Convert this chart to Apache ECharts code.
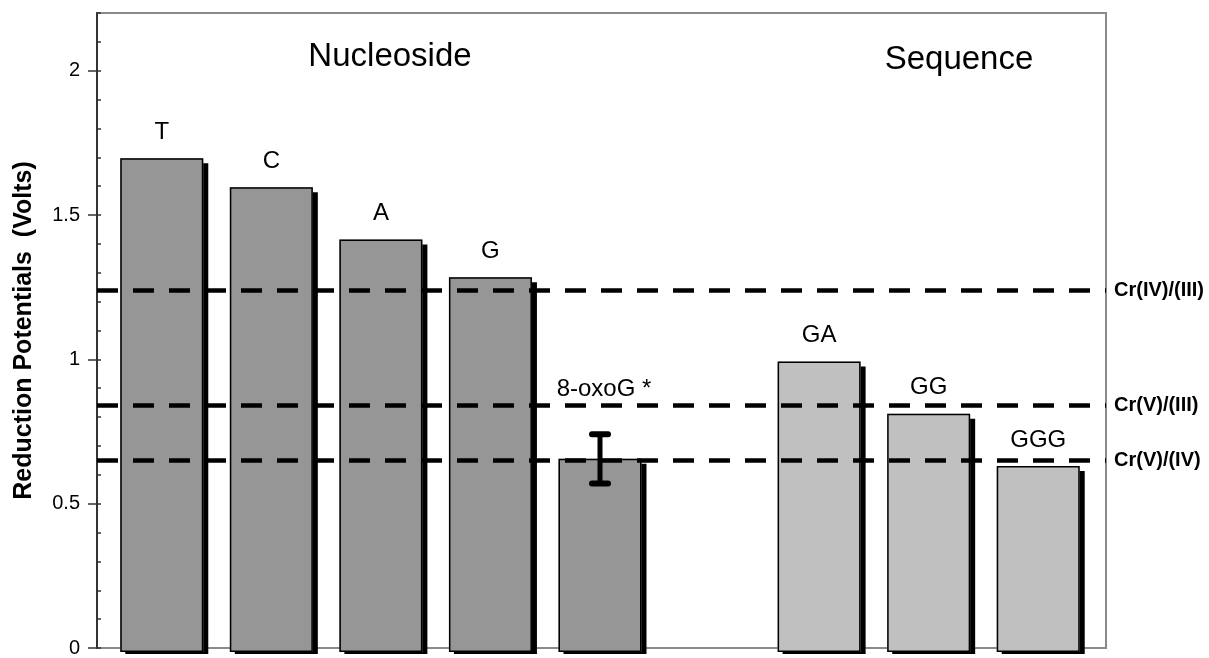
<!DOCTYPE html>
<html>
<head>
<meta charset="utf-8">
<script src="https://cdn.jsdelivr.net/npm/echarts@6/dist/echarts.min.js"></script>
<style>
  html, body { margin: 0; padding: 0; background: #fff; }
  #chart { width: 1209px; height: 658px; }
</style>
</head>
<body>
<div id="chart"></div>
<script>
// Reduction potentials of nucleosides and guanine sequences (V)
const categories = ['T', 'C', 'A', 'G', '8-oxoG *', '', 'GA', 'GG', 'GGG'];
const nucleosideValues = [1.70, 1.60, 1.42, 1.29, 0.665, null, null, null, null];
const sequenceValues = [null, null, null, null, null, null, 1.00, 0.82, 0.64];
const oxoGIndex = 4;
const oxoGError = 0.085;

// Chromium redox couples drawn as reference lines
const couples = ['Cr(IV)/(III)', 'Cr(V)/(III)', 'Cr(V)/(IV)'];
const coupleValues = [1.24, 0.845, 0.65];

// Y axis: labelled major ticks and unlabelled minor ticks
const yMin = 0, yMax = 2.2;
const majorTicks = [0, 0.5, 1, 1.5, 2];

const FONT = '"Liberation Sans", Arial, sans-serif';

const chart = echarts.init(document.getElementById('chart'), null, { renderer: 'canvas' });

// Each group is drawn twice: a filled body casting a hard drop shadow,
// then a black outline on top (so the shadow never crosses the fill).
const fillSeries = (name, values, fill) => ({
  name: name, type: 'bar', xAxisIndex: 1, yAxisIndex: 2,
  data: values, barWidth: 83, barGap: '-100%',
  itemStyle: { color: fill, borderWidth: 0, shadowColor: '#000', shadowBlur: 0, shadowOffsetX: 5, shadowOffsetY: 5 },
  label: { show: false }
});

const outlineSeries = (name, data) => ({
  name: name, type: 'bar', xAxisIndex: 1, yAxisIndex: 2,
  data: data, barWidth: 83, barGap: '-100%',
  itemStyle: { color: 'transparent', borderColor: '#000', borderWidth: 1.5 },
  label: { show: true, position: 'top', distance: 14, formatter: '{b}', fontFamily: FONT, fontSize: 24, color: '#000' }
});

const nucleosideLabelled = nucleosideValues.map((v, i) =>
  i === oxoGIndex ? { value: v, label: { distance: 57, offset: [4, 0] } } : v
);

const labelPads = [[26, 0, 0, 0], [21, 0, 0, 0], [7, 0, 0, 0]];

const option = {
  animation: false,
  backgroundColor: '#fff',
  grid: [
    { left: 97, right: 103, top: 13, bottom: 6, show: true, borderColor: '#8a8a8a', borderWidth: 2, backgroundColor: 'transparent' },
    { left: 107, right: 116, top: 13, bottom: 6 }
  ],
  xAxis: [
    { gridIndex: 0, type: 'value', min: 0, max: 1, show: false },
    { gridIndex: 1, type: 'category', data: categories, show: false }
  ],
  yAxis: [
    {
      gridIndex: 0, type: 'value', min: yMin, max: yMax, interval: 0.5, position: 'left',
      name: 'Reduction Potentials  (Volts)', nameLocation: 'middle', nameGap: 60, nameRotate: 90,
      nameTextStyle: { fontFamily: FONT, fontSize: 25, fontWeight: 'bold', color: '#000' },
      axisLine: { show: true, lineStyle: { color: '#333', width: 2 } },
      axisTick: { show: true, inside: false, length: 9, customValues: majorTicks, lineStyle: { color: '#333', width: 1.5 } },
      axisLabel: { margin: 17, fontFamily: FONT, fontSize: 20, color: '#000', customValues: majorTicks },
      splitLine: { show: false }
    },
    {
      gridIndex: 0, type: 'value', min: yMin, max: yMax, interval: 0.1, position: 'left',
      axisLine: { show: false },
      axisTick: { show: true, inside: true, length: 4, lineStyle: { color: '#333', width: 1.5 } },
      axisLabel: { show: false },
      splitLine: { show: false }
    },
    { gridIndex: 1, type: 'value', min: yMin, max: yMax, show: false }
  ],
  series: [
    fillSeries('Nucleoside', nucleosideValues, '#969696'),
    fillSeries('Sequence', sequenceValues, '#c0c0c0'),
    outlineSeries('Nucleoside', nucleosideLabelled),
    outlineSeries('Sequence', sequenceValues),
    {
      name: '8-oxoG range', type: 'custom', xAxisIndex: 1, yAxisIndex: 2, z: 4,
      data: [[oxoGIndex, nucleosideValues[oxoGIndex] - oxoGError, nucleosideValues[oxoGIndex] + oxoGError]],
      renderItem: (params, api) => {
        const lo = api.coord([api.value(0), api.value(1)]);
        const hi = api.coord([api.value(0), api.value(2)]);
        const cap = 8;
        const capStyle = { stroke: '#000', lineWidth: 6, lineCap: 'round' };
        return {
          type: 'group',
          children: [
            { type: 'line', shape: { x1: lo[0], y1: lo[1], x2: hi[0], y2: hi[1] }, style: { stroke: '#000', lineWidth: 5 } },
            { type: 'line', shape: { x1: hi[0] - cap, y1: hi[1], x2: hi[0] + cap, y2: hi[1] }, style: capStyle },
            { type: 'line', shape: { x1: lo[0] - cap, y1: lo[1], x2: lo[0] + cap, y2: lo[1] }, style: capStyle }
          ]
        };
      }
    },
    {
      name: 'Chromium couples', type: 'line', xAxisIndex: 0, yAxisIndex: 0, z: 5,
      data: [],
      markLine: {
        silent: true,
        symbol: ['none', 'none'],
        lineStyle: { color: '#000', width: 4.5, type: [21, 15] },
        label: { show: true, position: 'end', distance: 8, fontFamily: FONT, fontSize: 20, fontWeight: 'bold', color: '#000', formatter: '{b}' },
        data: couples.map((name, i) => ({ name: name, yAxis: coupleValues[i], label: { padding: labelPads[i] } }))
      }
    }
  ],
  graphic: [
    { type: 'text', x: 390, y: 57, style: { text: 'Nucleoside', fontFamily: FONT, fontSize: 33, fill: '#000', textAlign: 'center', textVerticalAlign: 'middle' } },
    { type: 'text', x: 959, y: 59.5, style: { text: 'Sequence', fontFamily: FONT, fontSize: 33, fill: '#000', textAlign: 'center', textVerticalAlign: 'middle' } },
    // keep the drop shadows from spilling below the baseline
    { type: 'rect', z: 50, shape: { x: 98, y: 654, width: 1010, height: 6 }, style: { fill: '#fff' } }
  ]
};

chart.setOption(option);
</script>
</body>
</html>
